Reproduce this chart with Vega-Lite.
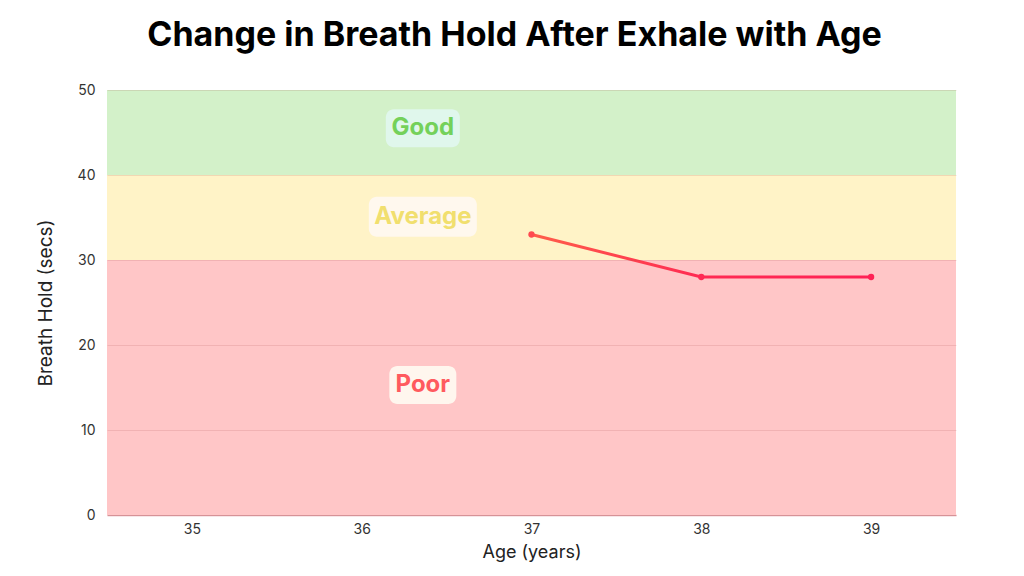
{
  "$schema": "https://vega.github.io/schema/vega-lite/v6.json",
  "width": 849,
  "height": 425,
  "autosize": {"type": "none"},
  "padding": {"left": 107, "top": 90, "right": 68, "bottom": 61},
  "background": "#ffffff",
  "title": {
    "text": "Change in Breath Hold After Exhale with Age",
    "font": "Inter",
    "fontSize": 34,
    "fontWeight": 700,
    "color": "#000000",
    "anchor": "middle",
    "offset": 30,
    "dx": -17
  },
  "config": {
    "view": {"stroke": null},
    "font": "Inter"
  },
  "datasets": {
    "zones": [
      {"zone": "Poor", "lo": 0, "hi": 30, "ly": 15.3},
      {"zone": "Average", "lo": 30, "hi": 40, "ly": 35.1},
      {"zone": "Good", "lo": 40, "hi": 50, "ly": 45.5}
    ],
    "hold": [
      {"age": 37, "secs": 33},
      {"age": 38, "secs": 28},
      {"age": 39, "secs": 28}
    ]
  },
  "layer": [
    {
      "data": {"name": "zones"},
      "mark": {"type": "rect"},
      "encoding": {
        "y": {
          "field": "lo",
          "type": "quantitative",
          "scale": {"domain": [0, 50], "nice": false},
          "axis": {
            "title": "Breath Hold (secs)",
            "titleFont": "Inter",
            "titleFontSize": 19,
            "titleFontWeight": 400,
            "titleColor": "#222222",
            "titlePadding": 22,
            "values": [0, 10, 20, 30, 40, 50],
            "labelFont": "Inter",
            "labelFontSize": 14,
            "labelColor": "#333333",
            "labelPadding": 12,
            "ticks": false,
            "domain": false,
            "grid": true,
            "gridColor": "#a04040",
            "gridOpacity": 0.15,
            "zindex": 1
          }
        },
        "y2": {"field": "hi"},
        "color": {
          "field": "zone",
          "type": "nominal",
          "scale": {
            "domain": ["Poor", "Average", "Good"],
            "range": ["#ffc6c7", "#fff3c7", "#d3f1c9"]
          },
          "legend": null
        }
      }
    },
    {
      "data": {"name": "hold"},
      "mark": {
        "type": "line",
        "strokeWidth": 3,
        "color": {
          "x1": 0, "y1": 0, "x2": 1, "y2": 0,
          "gradient": "linear",
          "stops": [
            {"offset": 0, "color": "#ff5e4a"},
            {"offset": 0.5, "color": "#ff2a52"},
            {"offset": 1, "color": "#ff2255"}
          ]
        }
      },
      "encoding": {
        "x": {
          "field": "age",
          "type": "quantitative",
          "scale": {"domain": [34.5, 39.5], "nice": false, "zero": false},
          "axis": {
            "title": "Age (years)",
            "titleFont": "Inter",
            "titleFontSize": 18,
            "titleFontWeight": 400,
            "titleColor": "#222222",
            "titlePadding": 7,
            "values": [35, 36, 37, 38, 39],
            "format": "d",
            "labelFont": "Inter",
            "labelFontSize": 14,
            "labelColor": "#333333",
            "labelPadding": 7,
            "ticks": false,
            "domain": true,
            "domainColor": "#e0a0a6",
            "domainWidth": 1.5,
            "grid": false
          }
        },
        "y": {"field": "secs", "type": "quantitative"}
      }
    },
    {
      "data": {"name": "hold"},
      "mark": {"type": "point", "filled": true, "size": 40, "opacity": 1},
      "encoding": {
        "x": {"field": "age", "type": "quantitative"},
        "y": {"field": "secs", "type": "quantitative"},
        "color": {
          "field": "age",
          "type": "ordinal",
          "scale": {"domain": [37, 38, 39], "range": ["#ff4a50", "#ff2a54", "#ff2255"]},
          "legend": null
        }
      }
    },
    {
      "data": {"name": "zones"},
      "transform": [{"filter": "datum.zone === 'Good'"}],
      "mark": {"type": "rect", "width": 74, "height": 38, "cornerRadius": 8, "fill": "#e0f7ec"},
      "encoding": {
        "x": {"datum": 36.36, "type": "quantitative"},
        "y": {"field": "ly", "type": "quantitative"}
      }
    },
    {
      "data": {"name": "zones"},
      "transform": [{"filter": "datum.zone === 'Average'"}],
      "mark": {"type": "rect", "width": 108, "height": 40, "cornerRadius": 8, "fill": "#fff8ee"},
      "encoding": {
        "x": {"datum": 36.36, "type": "quantitative"},
        "y": {"field": "ly", "type": "quantitative"}
      }
    },
    {
      "data": {"name": "zones"},
      "transform": [{"filter": "datum.zone === 'Poor'"}],
      "mark": {"type": "rect", "width": 67, "height": 38, "cornerRadius": 8, "fill": "#fff6ee"},
      "encoding": {
        "x": {"datum": 36.36, "type": "quantitative"},
        "y": {"field": "ly", "type": "quantitative"}
      }
    },
    {
      "data": {"name": "zones"},
      "mark": {"type": "text", "font": "Inter", "fontSize": 24, "fontWeight": 700, "align": "center", "baseline": "middle"},
      "encoding": {
        "x": {"datum": 36.36, "type": "quantitative"},
        "y": {"field": "ly", "type": "quantitative"},
        "text": {"field": "zone"},
        "color": {
          "field": "zone",
          "type": "nominal",
          "scale": {
            "domain": ["Poor", "Average", "Good"],
            "range": ["#ff5a5e", "#f1df6e", "#74d15a"]
          },
          "legend": null
        }
      }
    }
  ],
  "resolve": {"scale": {"color": "independent"}}
}
